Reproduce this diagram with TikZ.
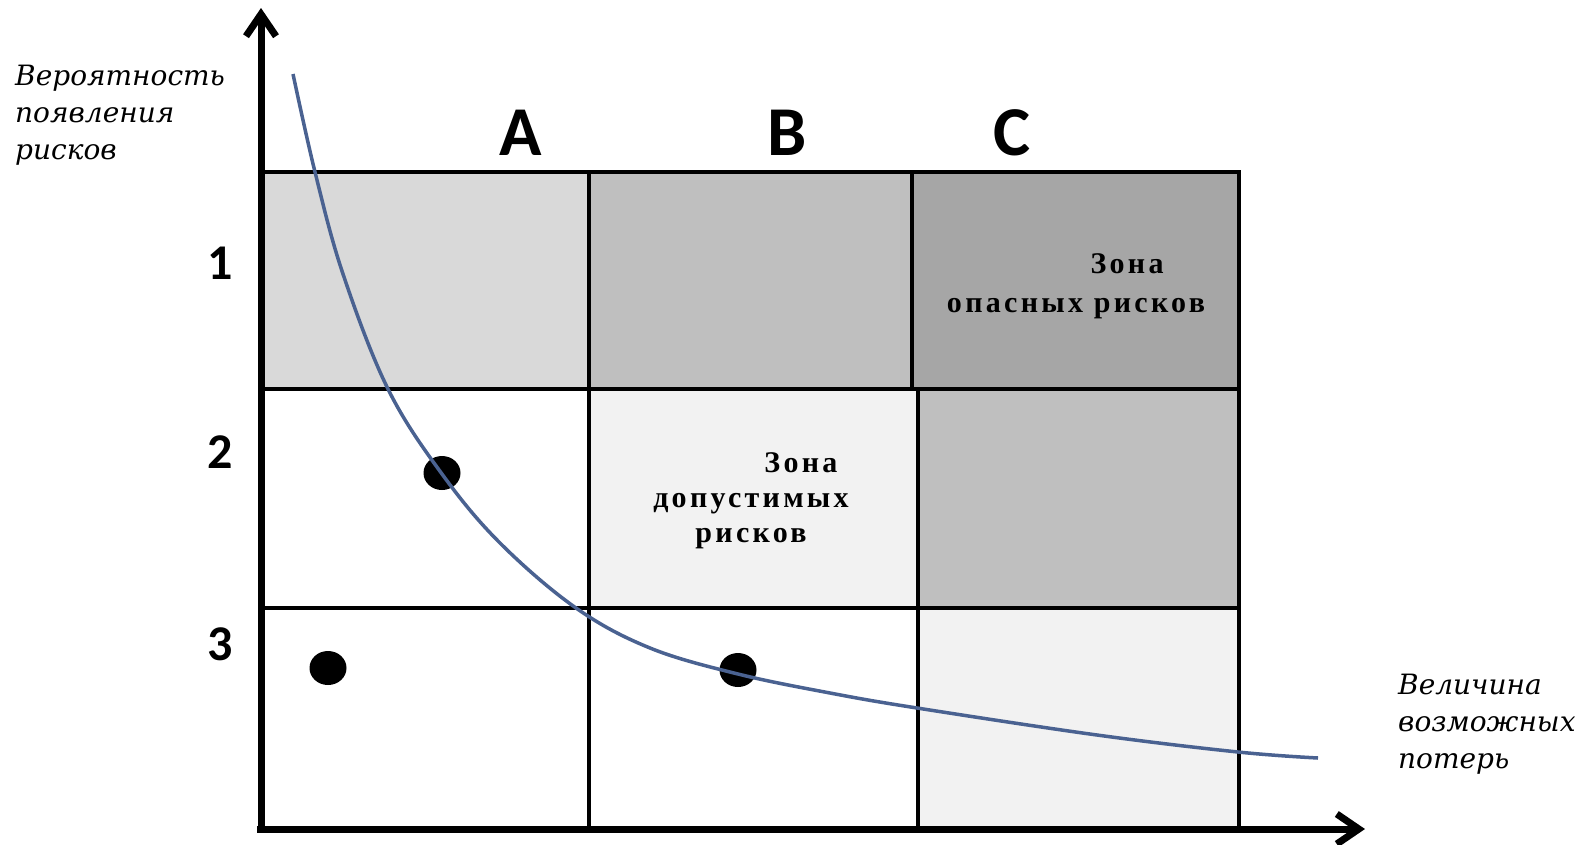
\documentclass[tikz,border=0pt]{standalone}
\usepackage{fontspec}
\usepackage{tikz}
\usetikzlibrary{arrows.meta, shapes.geometric}
\newfontfamily\axisfont{DejaVu Serif}
\newfontfamily\zonefont[LetterSpace=11]{Liberation Serif}
\newfontfamily\markfont{Carlito}
\definecolor{xcurve}{RGB}{74,98,145}
\definecolor{xlight}{RGB}{242,242,242}
\definecolor{xpale}{RGB}{217,217,217}
\definecolor{xmid}{RGB}{191,191,191}
\definecolor{xdeep}{RGB}{166,166,166}

\begin{document}
\begin{tikzpicture}[x=1pt, y=-1pt,
  axis/.style={line width=7pt, -{Straight Barb[length=22pt, width=30pt]}},
  gridline/.style={line width=3.5pt, line cap=rect},
  riskcurve/.style={draw=xcurve, line width=3.5pt},
  riskdot/.style={ellipse, fill=black, minimum width=37pt, minimum height=34pt, inner sep=0pt},
  axislabel/.style={font=\axisfont\itshape\fontsize{28}{37}\selectfont,
                    align=left, anchor=base west, inner sep=0pt},
  zonelabel/.style={font=\zonefont\bfseries\fontsize{30}{#1}\selectfont,
                    align=center, anchor=base, inner sep=0pt},
  colmark/.style={font=\markfont\bfseries\fontsize{70}{70}\selectfont, anchor=base, inner sep=0pt},
  rowmark/.style={font=\markfont\bfseries\fontsize{50}{50}\selectfont, anchor=base, inner sep=0pt}
]
  \useasboundingbox[fill=white] (0,0) rectangle (1585,844);

  \foreach \xa/\ya/\xb/\yb/\c in {261/172/589/389/xpale, 589/172/912/389/xmid,
      912/172/1239/389/xdeep, 589/389/918/608/xlight, 918/389/1239/608/xmid,
      918/608/1239/829/xlight}
    \fill[\c] (\xa,\ya) rectangle (\xb,\yb);

  \foreach \y in {172, 389, 608}
    \draw[gridline] (261,\y) -- (1239,\y);
  \foreach \x/\ya/\yb in {589/172/829, 912/172/389, 918/389/829, 1239/172/829}
    \draw[gridline] (\x,\ya) -- (\x,\yb);

  \coordinate (O) at (261,829);
  \coordinate (ytop) at (261,8);
  \coordinate (xend) at (1365,829);
  \draw[axis] (257,829) -- (xend);
  \draw[axis] (261,832) -- (ytop);

  \node[riskdot] (d1) at (442,473) {};
  \node[riskdot] (d2) at (328,668) {};
  \node[riskdot] (d3) at (738,670) {};

  \draw[riskcurve] plot[smooth, tension=0.6] coordinates {(293,74) (315,172) (343,274)
    (388,389) (442,474) (500,543) (576,608) (650,648) (738,674) (830,693)
    (917,708) (1097,735) (1238,752) (1318,758)};

  \node[colmark] (cA) at (521,155) {A};
  \node[colmark] (cB) at (787,155) {B};
  \node[colmark] (cC) at (1012,155) {C};
  \node[rowmark] (r1) at (220,279) {1};
  \node[rowmark] (r2) at (220,468) {2};
  \node[rowmark] (r3) at (220,660) {3};

  \node[axislabel] (ylab) at (15,159) {Вероятность\\появления\\рисков};
  \node[axislabel] (xlab) at (1398,768) {Величина\\возможных\\потерь};

  \node[zonelabel=39] (zdanger) at (1076,312) {\hspace*{102pt}Зона\\опасных рисков};
  \node[zonelabel=35] (zallowed) at (751,542) {\hspace*{100pt}Зона\\допустимых\\рисков};
\end{tikzpicture}
\end{document}
